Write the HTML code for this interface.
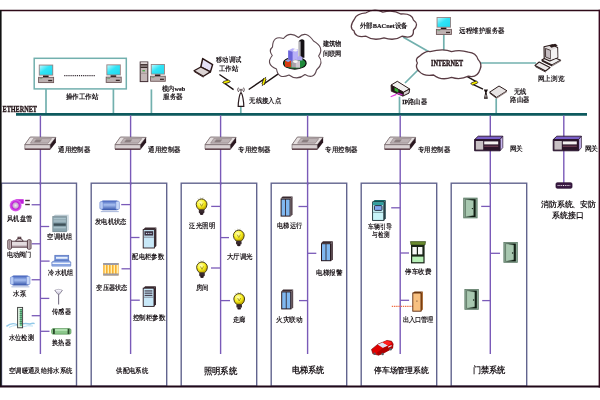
<!DOCTYPE html><html><head><meta charset="utf-8"><style>html,body{margin:0;padding:0;background:#fff;overflow:hidden;width:600px;height:400px;}svg{display:block;will-change:transform;font-family:"Liberation Serif",serif;}</style></head><body>
<svg width="600" height="400" viewBox="0 0 600 400">
<rect width="600" height="400" fill="#fff"/>
<rect x="34.2" y="58.3" width="92.1" height="30.6" fill="none" stroke="#72b0ae" stroke-width="1.5"/>
<line x1="46" y1="89" x2="46" y2="113.5" stroke="#72b0ae" stroke-width="1.7"/>
<line x1="113.4" y1="89" x2="113.4" y2="113.5" stroke="#72b0ae" stroke-width="1.7"/>
<line x1="151.4" y1="89.4" x2="151.4" y2="113.5" stroke="#72b0ae" stroke-width="1.7"/>
<line x1="240.8" y1="106.5" x2="240.8" y2="113.5" stroke="#72b0ae" stroke-width="1.7"/>
<line x1="399.5" y1="96.7" x2="399.5" y2="113.5" stroke="#72b0ae" stroke-width="1.7"/>
<line x1="496.2" y1="98.5" x2="496.2" y2="113.5" stroke="#72b0ae" stroke-width="1.7"/>
<line x1="443.8" y1="34.7" x2="443.8" y2="51" stroke="#72b0ae" stroke-width="1.7"/>
<line x1="403" y1="37" x2="431" y2="53" stroke="#72b0ae" stroke-width="1.7"/>
<line x1="405" y1="83" x2="418" y2="70" stroke="#72b0ae" stroke-width="1.7"/>
<line x1="478" y1="63" x2="536" y2="63" stroke="#72b0ae" stroke-width="1.7"/>
<line x1="16" y1="114.4" x2="587" y2="114.4" stroke="#0e5a5e" stroke-width="2.8"/>
<text x="2.50" y="111.80" font-size="7.90" textLength="34.50" lengthAdjust="spacingAndGlyphs" fill="#241418" font-weight="bold" stroke="#241418" stroke-width="0.35">ETHERNET</text>
<line x1="40.4" y1="115.5" x2="40.4" y2="354" stroke="#7a5ab8" stroke-width="1.4"/>
<line x1="130.6" y1="115.5" x2="130.6" y2="354" stroke="#7a5ab8" stroke-width="1.4"/>
<line x1="220.6" y1="115.5" x2="220.6" y2="354" stroke="#7a5ab8" stroke-width="1.4"/>
<line x1="307.6" y1="115.5" x2="307.6" y2="354" stroke="#7a5ab8" stroke-width="1.4"/>
<line x1="400.2" y1="115.5" x2="400.2" y2="354" stroke="#7a5ab8" stroke-width="1.4"/>
<line x1="490.3" y1="115.5" x2="490.3" y2="354" stroke="#7a5ab8" stroke-width="1.4"/>
<line x1="563.8" y1="115.5" x2="563.8" y2="183" stroke="#7a5ab8" stroke-width="1.4"/>
<rect x="1.5" y="183.2" width="75.0" height="203" fill="none" stroke="#62648e" stroke-width="1.4"/>
<rect x="91.2" y="183.2" width="75.5" height="203" fill="none" stroke="#62648e" stroke-width="1.4"/>
<rect x="181.2" y="183.2" width="75.5" height="203" fill="none" stroke="#62648e" stroke-width="1.4"/>
<rect x="271.2" y="183.2" width="75.5" height="203" fill="none" stroke="#62648e" stroke-width="1.4"/>
<rect x="361.2" y="183.2" width="75.5" height="203" fill="none" stroke="#62648e" stroke-width="1.4"/>
<rect x="451.2" y="183.2" width="75.5" height="203" fill="none" stroke="#62648e" stroke-width="1.4"/>
<line x1="40.4" y1="182" x2="40.4" y2="185" stroke="#7a5ab8" stroke-width="1.4"/>
<line x1="130.6" y1="182" x2="130.6" y2="185" stroke="#7a5ab8" stroke-width="1.4"/>
<line x1="220.6" y1="182" x2="220.6" y2="185" stroke="#7a5ab8" stroke-width="1.4"/>
<line x1="307.6" y1="182" x2="307.6" y2="185" stroke="#7a5ab8" stroke-width="1.4"/>
<line x1="400.2" y1="182" x2="400.2" y2="185" stroke="#7a5ab8" stroke-width="1.4"/>
<line x1="490.3" y1="182" x2="490.3" y2="185" stroke="#7a5ab8" stroke-width="1.4"/>
<defs><linearGradient id="scr" x1="0" y1="0" x2="1" y2="1"><stop offset="0" stop-color="#b8f8ff"/><stop offset="0.45" stop-color="#30e4f6"/><stop offset="1" stop-color="#20d8ee"/></linearGradient><linearGradient id="cyl" x1="0" y1="0" x2="0" y2="1"><stop offset="0" stop-color="#3a5ab8"/><stop offset="0.45" stop-color="#a8c0f0"/><stop offset="1" stop-color="#3050a8"/></linearGradient><radialGradient id="bulb" cx="0.4" cy="0.35" r="0.6"><stop offset="0" stop-color="#ffffc0"/><stop offset="0.6" stop-color="#f8f020"/><stop offset="1" stop-color="#c8b000"/></radialGradient><radialGradient id="fan" cx="0.5" cy="0.5" r="0.5"><stop offset="0" stop-color="#f0e8f0"/><stop offset="0.45" stop-color="#c8a8d0"/><stop offset="0.6" stop-color="#c020d8"/><stop offset="1" stop-color="#e070f0"/></radialGradient></defs>
<g transform="translate(38.2,64.6) scale(1.0,1.0)"><rect x="0.6" y="0" width="14.4" height="11" fill="#9a8080"/><rect x="1.5" y="0.9" width="12.6" height="9.2" fill="url(#scr)"/><rect x="4.8" y="11" width="5.6" height="1.7" fill="#1a1010"/><rect x="0.4" y="12.7" width="15" height="5.3" fill="#bcb0b0" stroke="#6e5658" stroke-width="0.9"/><rect x="1.4" y="13.6" width="2.8" height="0.9" fill="#7aa07a"/><rect x="10" y="15.3" width="4" height="1.3" fill="#3a2a2a"/></g>
<g transform="translate(105.8,64.4) scale(1.0,1.0)"><rect x="0.6" y="0" width="14.4" height="11" fill="#9a8080"/><rect x="1.5" y="0.9" width="12.6" height="9.2" fill="url(#scr)"/><rect x="4.8" y="11" width="5.6" height="1.7" fill="#1a1010"/><rect x="0.4" y="12.7" width="15" height="5.3" fill="#bcb0b0" stroke="#6e5658" stroke-width="0.9"/><rect x="1.4" y="13.6" width="2.8" height="0.9" fill="#7aa07a"/><rect x="10" y="15.3" width="4" height="1.3" fill="#3a2a2a"/></g>
<g transform="translate(150.2,64.0) scale(0.98,0.96)"><rect x="0.6" y="0" width="14.4" height="11" fill="#9a8080"/><rect x="1.5" y="0.9" width="12.6" height="9.2" fill="url(#scr)"/><rect x="4.8" y="11" width="5.6" height="1.7" fill="#1a1010"/><rect x="0.4" y="12.7" width="15" height="5.3" fill="#bcb0b0" stroke="#6e5658" stroke-width="0.9"/><rect x="1.4" y="13.6" width="2.8" height="0.9" fill="#7aa07a"/><rect x="10" y="15.3" width="4" height="1.3" fill="#3a2a2a"/></g>
<g transform="translate(436.0,17.0) scale(1.0,0.97)"><rect x="0.6" y="0" width="14.4" height="11" fill="#9a8080"/><rect x="1.5" y="0.9" width="12.6" height="9.2" fill="url(#scr)"/><rect x="4.8" y="11" width="5.6" height="1.7" fill="#1a1010"/><rect x="0.4" y="12.7" width="15" height="5.3" fill="#bcb0b0" stroke="#6e5658" stroke-width="0.9"/><rect x="1.4" y="13.6" width="2.8" height="0.9" fill="#7aa07a"/><rect x="10" y="15.3" width="4" height="1.3" fill="#3a2a2a"/></g>
<line x1="64.2" y1="75.6" x2="95" y2="75.6" stroke="#3a3038" stroke-width="1.1" stroke-dasharray="1.2,0.9"/>
<g><rect x="140.2" y="62" width="7.6" height="19.6" fill="#c4b8b8" stroke="#3e2a30" stroke-width="1"/><rect x="140.6" y="62.4" width="6.8" height="1.2" fill="#f0e8e8"/><rect x="140.6" y="64.2" width="6.8" height="1.3" fill="#2a1a1a"/><rect x="140.6" y="66.6" width="6.8" height="1.3" fill="#2a1a1a"/><rect x="142.4" y="70" width="2.6" height="1.4" fill="#50a850"/><line x1="140.6" y1="73.4" x2="147.4" y2="73.4" stroke="#8a7a7a" stroke-width="0.5"/></g>
<polygon points="202.7,58.6 212.6,64.6 210.4,71.9 200.8,67" fill="#e4e0f6" stroke="#2a1616" stroke-width="1.5" stroke-linejoin="round"/><polygon points="200.8,67 210.4,71.9 203.4,76.3 194,70.8" fill="#dcd4d4" stroke="#2a1616" stroke-width="1.3" stroke-linejoin="round"/><line x1="194.2" y1="71.6" x2="203.4" y2="77.2" stroke="#3a2222" stroke-width="1"/>
<polyline points="219.4,74.5 229.4,81.2 223.6,82.6 233.6,89.6" fill="none" stroke="#1e1414" stroke-width="1.4" stroke-linejoin="miter"/>
<line x1="229.4" y1="81.2" x2="223.6" y2="82.6" stroke="#1e1414" stroke-width="3.2" stroke-linecap="butt"/>
<line x1="229.4" y1="81.2" x2="223.6" y2="82.6" stroke="#f4ee00" stroke-width="1.7" stroke-linecap="butt"/>
<polyline points="248.7,89.5 265,78.4 263,84.6 279,73.4" fill="none" stroke="#1e1414" stroke-width="1.4" stroke-linejoin="miter"/>
<line x1="265" y1="78.4" x2="263" y2="84.6" stroke="#1e1414" stroke-width="3.2" stroke-linecap="butt"/>
<line x1="265" y1="78.4" x2="263" y2="84.6" stroke="#f4ee00" stroke-width="1.7" stroke-linecap="butt"/>
<polyline points="466.5,76.2 477,82.1 471.8,83.9 483,89.1" fill="none" stroke="#1e1414" stroke-width="1.4" stroke-linejoin="miter"/>
<line x1="477" y1="82.1" x2="471.8" y2="83.9" stroke="#1e1414" stroke-width="3.2" stroke-linecap="butt"/>
<line x1="477" y1="82.1" x2="471.8" y2="83.9" stroke="#f4ee00" stroke-width="1.7" stroke-linecap="butt"/>
<path d="M238.4,87.6 Q236.8,89.8 238.6,92 M243.6,87.6 Q245.2,89.8 243.4,92" fill="none" stroke="#4a3a3e" stroke-width="0.9"/><path d="M239.8,88.6 Q239,89.8 239.9,91 M242.2,88.6 Q243,89.8 242.1,91" fill="none" stroke="#6a5a5e" stroke-width="0.7"/><circle cx="241" cy="89.8" r="0.9" fill="#3a2a2e"/><line x1="241" y1="90.6" x2="241" y2="93" stroke="#3a2a2e" stroke-width="0.8"/><path d="M241,92.8 C242.6,93.6 243.8,102.6 243.8,106.4 L238.2,106.4 C238.2,102.6 239.4,93.6 241,92.8 Z" fill="#fff" stroke="#2a1a1e" stroke-width="1.2"/>
<path d="M272.5,47 Q272.80,35.08 283.5,38.5 Q289.70,30.72 298.5,37.5 Q306.00,29.76 313.5,41 Q324.76,47.20 318.6,56 Q324.44,63.00 316.5,70 Q314.00,79.92 305,74.5 Q297.00,81.12 289,75 Q278.20,79.80 276.5,69 Q265.04,64.20 272.3,55.5 Q268.24,50.60 272.5,47 Z" fill="#fff" stroke="#5e4850" stroke-width="1.1" stroke-linejoin="round"/>
<path d="M354.6,18.8 Q356.70,13.40 366,12.8 Q374.40,7.94 382.8,12.2 Q393.24,9.50 400.8,14 Q412.14,13.16 413.4,20 Q419.64,24.38 413.4,30.2 Q414.18,39.44 402,36.2 Q394.44,41.32 384,37.8 Q373.56,41.32 366,36.2 Q354.72,38.06 354,30.8 Q348.30,27.68 354.6,18.8 Z" fill="#fff" stroke="#5a3c44" stroke-width="1.3" stroke-linejoin="round"/>
<path d="M419.2,56.4 Q426.04,50.64 430,51.6 Q443.68,48.24 451.6,51.6 Q460.00,49.26 468.4,52.2 Q476.08,52.92 478,59.4 Q482.46,64.20 480.2,69 Q477.42,78.36 468.4,76.2 Q460.00,80.16 451.6,77.4 Q441.16,81.00 433.6,75 Q423.52,76.56 419.2,71.4 Q414.70,67.20 417.4,63 Q414.70,58.98 419.2,56.4 Z" fill="#fff" stroke="#5a3c44" stroke-width="1.3" stroke-linejoin="round"/>
<g><ellipse cx="294.8" cy="63.2" rx="11.3" ry="5.9" fill="#1f8a3a" stroke="#0a0a0a" stroke-width="1.1"/><path d="M298.8,57.8 L298.8,41 Q301.6,37.8 304.4,40.6 L304.4,57.8 Z" fill="#141014"/><rect x="299.2" y="41.4" width="1.3" height="16" fill="#dcdce4"/><polygon points="288.2,50.4 292.6,48.2 298,49.4 298,62 288.2,63" fill="#b8b0f8"/><polygon points="288.2,50.4 292.6,51.8 292.6,63 288.2,63" fill="#6a64d8"/><ellipse cx="295.4" cy="50.2" rx="2" ry="1.3" fill="#f4f4f4"/><polygon points="297,57.2 299.8,55.8 302.4,57 302.4,60.6 297,60.6" fill="#b0a8f0"/><polygon points="285,60.8 287.6,59.2 291,60.4 291,67.2 285,66.8" fill="#d83a10"/><polygon points="285,60.8 287.6,59.2 291,60.4 288.4,62" fill="#88a8f0"/><polygon points="291.4,61 295.6,59.4 300,61 300,67.6 291.4,67.6" fill="#a8a0a8"/><polygon points="295.8,61.6 300,61 300,67.6 295.8,67.6" fill="#d0c8d0"/><ellipse cx="295.4" cy="61.6" rx="2.4" ry="1.4" fill="#f8f8f8"/></g>
<g stroke-linejoin="round"><polygon points="391,85.1 397.3,81.3 409.7,89 403.4,92.3" fill="#f2f0f0" stroke="#2a1a1a" stroke-width="1"/><polygon points="403.4,92.3 409.7,89 409,93.1 402.8,96.1" fill="#dcd6d6" stroke="#2a1a1a" stroke-width="1"/><polygon points="391,85.1 403.4,92.3 402.8,96.1 391.3,91.2" fill="#241418" stroke="#2a1a1a" stroke-width="0.8"/><polygon points="394.5,87.6 398.4,89.8 398.2,92.6 394.6,90.8" fill="#30b030"/><polygon points="397.6,92.4 402.6,94.2 402.4,95.4 397.4,94" fill="#c030c0"/></g>
<line x1="390.7" y1="96.8" x2="396.4" y2="94.4" stroke="#e040e0" stroke-width="1.2"/>
<g stroke-linejoin="round"><polygon points="489.6,92.2 499,86 507,90.8 496.6,97.4" fill="#e8e4e4" stroke="#2a1a1a" stroke-width="1"/><polygon points="489.6,92.2 496.6,97.4 496.6,98.8 489.6,93.6" fill="#3a2a2a"/><polygon points="496.6,97.4 507,90.8 507,92 496.6,98.8" fill="#8a7a7a"/></g>
<path d="M483.8,89.6 L488,89.6 L486.6,92.6 L487.8,98.8 L484,98.8 L485.2,92.6 Z" fill="#1a1010"/><rect x="485.2" y="94.6" width="1.4" height="3" fill="#a8a0a0"/>
<g stroke-linejoin="round"><polygon points="541.8,60 549.6,55.6 560.6,60.2 552,65" fill="#f0f0f0" stroke="#2a1a1a" stroke-width="1.1"/><polygon points="541.8,60 552,65 552,66.4 541.8,61.6" fill="#2a1a1a"/><polygon points="552,65 560.6,60.2 560.6,61.6 552,66.4" fill="#8a8080"/><polygon points="544,46.8 552.4,44.8 557.6,47.4 557.8,57.6 549.8,61 544.2,58.6" fill="#e0dcdc" stroke="#2a1a1a" stroke-width="1.1"/><polygon points="545.4,48.4 550.6,50.4 550.6,59 545.6,57" fill="#c4bcc0" stroke="#3a2a2a" stroke-width="0.9"/><polygon points="550.8,50.6 557.2,47.8 557.4,57.4 550.8,59.8" fill="#f4f2f2"/><polygon points="549,45.4 555.2,43.8 557.8,45.6 551.4,47.8" fill="#2a1a1a"/><polygon points="535,65.4 539.2,62 550,67.6 545.6,71" fill="#ece8e8" stroke="#2a1a1a" stroke-width="1.1"/><line x1="535.4" y1="66.6" x2="545.6" y2="72" stroke="#2a1a1a" stroke-width="0.9"/></g>
<g transform="translate(0.00,0)" stroke-linejoin="round"><polygon points="30.2,137 55.9,137.4 50.2,144.7 24.8,144.7" fill="#e6e0e0" stroke="#6a5a5e" stroke-width="0.8"/><polygon points="33.6,138.4 51.6,138.6 48,143.2 30.4,143.2" fill="#bcb2b4" stroke="#7a6a6e" stroke-width="0.5"/><polygon points="36,139.4 42,139.4 40,142.2 34,142.2" fill="#8a7e80"/><rect x="24.8" y="144.7" width="25.4" height="4.4" fill="#d8d0d2" stroke="#6a5a5e" stroke-width="0.6"/><line x1="24.8" y1="149.2" x2="50.2" y2="149.2" stroke="#4a2a34" stroke-width="1.2"/><polygon points="50.2,144.7 55.9,137.4 55.9,142.4 50.4,149.6" fill="#2a1820"/></g>
<g transform="translate(90.20,0)" stroke-linejoin="round"><polygon points="30.2,137 55.9,137.4 50.2,144.7 24.8,144.7" fill="#e6e0e0" stroke="#6a5a5e" stroke-width="0.8"/><polygon points="33.6,138.4 51.6,138.6 48,143.2 30.4,143.2" fill="#bcb2b4" stroke="#7a6a6e" stroke-width="0.5"/><polygon points="36,139.4 42,139.4 40,142.2 34,142.2" fill="#8a7e80"/><rect x="24.8" y="144.7" width="25.4" height="4.4" fill="#d8d0d2" stroke="#6a5a5e" stroke-width="0.6"/><line x1="24.8" y1="149.2" x2="50.2" y2="149.2" stroke="#4a2a34" stroke-width="1.2"/><polygon points="50.2,144.7 55.9,137.4 55.9,142.4 50.4,149.6" fill="#2a1820"/></g>
<g transform="translate(180.20,0)" stroke-linejoin="round"><polygon points="30.2,137 55.9,137.4 50.2,144.7 24.8,144.7" fill="#e6e0e0" stroke="#6a5a5e" stroke-width="0.8"/><polygon points="33.6,138.4 51.6,138.6 48,143.2 30.4,143.2" fill="#bcb2b4" stroke="#7a6a6e" stroke-width="0.5"/><polygon points="36,139.4 42,139.4 40,142.2 34,142.2" fill="#8a7e80"/><rect x="24.8" y="144.7" width="25.4" height="4.4" fill="#d8d0d2" stroke="#6a5a5e" stroke-width="0.6"/><line x1="24.8" y1="149.2" x2="50.2" y2="149.2" stroke="#4a2a34" stroke-width="1.2"/><polygon points="50.2,144.7 55.9,137.4 55.9,142.4 50.4,149.6" fill="#2a1820"/></g>
<g transform="translate(267.20,0)" stroke-linejoin="round"><polygon points="30.2,137 55.9,137.4 50.2,144.7 24.8,144.7" fill="#e6e0e0" stroke="#6a5a5e" stroke-width="0.8"/><polygon points="33.6,138.4 51.6,138.6 48,143.2 30.4,143.2" fill="#bcb2b4" stroke="#7a6a6e" stroke-width="0.5"/><polygon points="36,139.4 42,139.4 40,142.2 34,142.2" fill="#8a7e80"/><rect x="24.8" y="144.7" width="25.4" height="4.4" fill="#d8d0d2" stroke="#6a5a5e" stroke-width="0.6"/><line x1="24.8" y1="149.2" x2="50.2" y2="149.2" stroke="#4a2a34" stroke-width="1.2"/><polygon points="50.2,144.7 55.9,137.4 55.9,142.4 50.4,149.6" fill="#2a1820"/></g>
<g transform="translate(359.80,0)" stroke-linejoin="round"><polygon points="30.2,137 55.9,137.4 50.2,144.7 24.8,144.7" fill="#e6e0e0" stroke="#6a5a5e" stroke-width="0.8"/><polygon points="33.6,138.4 51.6,138.6 48,143.2 30.4,143.2" fill="#bcb2b4" stroke="#7a6a6e" stroke-width="0.5"/><polygon points="36,139.4 42,139.4 40,142.2 34,142.2" fill="#8a7e80"/><rect x="24.8" y="144.7" width="25.4" height="4.4" fill="#d8d0d2" stroke="#6a5a5e" stroke-width="0.6"/><line x1="24.8" y1="149.2" x2="50.2" y2="149.2" stroke="#4a2a34" stroke-width="1.2"/><polygon points="50.2,144.7 55.9,137.4 55.9,142.4 50.4,149.6" fill="#2a1820"/></g>
<g transform="translate(0.00,0)" stroke-linejoin="round"><polygon points="474.6,139.6 478.2,136.2 502.8,136.2 500,139.6" fill="#7a60c8" stroke="#2a1430" stroke-width="0.9"/><polygon points="500,139.6 502.8,136.2 502.8,147.6 500,150.8" fill="#c8b8f0" stroke="#2a1430" stroke-width="0.7"/><rect x="474.6" y="139.6" width="25.4" height="11.2" fill="#2a1428" stroke="#2a1430" stroke-width="0.9"/><rect x="475.8" y="141" width="7.4" height="8.6" fill="#c8c0c4"/><rect x="484.2" y="141.4" width="14" height="3" fill="#f4f0f0"/><rect x="484.2" y="145.6" width="14" height="1.4" fill="#6a3a50"/></g>
<g transform="translate(78.60,0)" stroke-linejoin="round"><polygon points="474.6,139.6 478.2,136.2 502.8,136.2 500,139.6" fill="#7a60c8" stroke="#2a1430" stroke-width="0.9"/><polygon points="500,139.6 502.8,136.2 502.8,147.6 500,150.8" fill="#c8b8f0" stroke="#2a1430" stroke-width="0.7"/><rect x="474.6" y="139.6" width="25.4" height="11.2" fill="#2a1428" stroke="#2a1430" stroke-width="0.9"/><rect x="475.8" y="141" width="7.4" height="8.6" fill="#c8c0c4"/><rect x="484.2" y="141.4" width="14" height="3" fill="#f4f0f0"/><rect x="484.2" y="145.6" width="14" height="1.4" fill="#6a3a50"/></g>
<rect x="556" y="182.8" width="16" height="5.4" rx="1.2" fill="#3a1a44" stroke="#2a1030" stroke-width="0.8"/><line x1="557.6" y1="185.5" x2="570.4" y2="185.5" stroke="#f0e8f0" stroke-width="1.1" stroke-dasharray="1,0.8"/>
<path d="M15.5,199.6 L23.4,199.6 L23.4,203.4 L20.6,203.4" fill="#c020d8" stroke="#c020d8" stroke-width="0.6"/><circle cx="15.6" cy="205.5" r="6" fill="url(#fan)"/><rect x="25.2" y="199.8" width="4.6" height="1.4" fill="#4a3438"/><rect x="25.2" y="203.8" width="4.6" height="1.4" fill="#4a3438"/>
<g><polygon points="52.8,216.6 55,214.8 68.9,214.8 66.6,216.6" fill="#b8c8d0"/><polygon points="66.6,216.6 68.9,214.8 68.9,230 66.6,231.8" fill="#d0dde4"/><rect x="52.8" y="216.6" width="13.8" height="15.2" fill="#8aa4ae" stroke="#5a7078" stroke-width="0.5"/><rect x="53.6" y="218.4" width="12.2" height="0.8" fill="#c0d4dc"/><rect x="53.6" y="220.6" width="12.2" height="0.8" fill="#c0d4dc"/><rect x="53.6" y="223.4" width="12.2" height="2.4" fill="#3e5058"/><rect x="53.6" y="227.4" width="12.2" height="0.8" fill="#c0d4dc"/></g>
<g stroke="#4a3038" stroke-width="0.9" fill="#d4c8cc"><rect x="11" y="241.2" width="17" height="6" fill="#e4dcdf"/><path d="M15.6,241.2 Q16.4,238.6 19.4,238.4 Q22.4,238.6 23.2,241.2 Z" fill="#e8e0e2"/><rect x="18" y="237.2" width="2.8" height="1.4"/><rect x="7.8" y="239.8" width="3.6" height="9.4" rx="1"/><rect x="27.4" y="239.8" width="3.6" height="9.4" rx="1"/></g><line x1="9.6" y1="240.6" x2="9.6" y2="248.4" stroke="#6a5058" stroke-width="0.6"/><line x1="29.2" y1="240.6" x2="29.2" y2="248.4" stroke="#6a5058" stroke-width="0.6"/><line x1="11.6" y1="246.2" x2="27.2" y2="246.2" stroke="#8a7078" stroke-width="0.8"/>
<g><rect x="54.8" y="255.2" width="14" height="5.8" fill="#7090d8" stroke="#4a64b0" stroke-width="0.5"/><rect x="56" y="256.8" width="11.6" height="2" fill="#e8f0fc"/><polygon points="51.8,262 54.4,260.8 69.2,260.8 70.8,262 70.8,265.8 51.8,265.8" fill="#86a4e4" stroke="#4a64b0" stroke-width="0.5"/><rect x="52.4" y="262.6" width="17.8" height="1.4" fill="#f0f4fc"/><rect x="51.8" y="265.8" width="19" height="1.1" fill="#b0c4ec"/></g>
<g transform="translate(10.4,275.2)"><rect x="1.6" y="0.4" width="16.8" height="9.8" rx="1.5" fill="url(#cyl)"/><rect x="0" y="1.6" width="3.4" height="7.6" rx="1.2" fill="#b8ccf4" stroke="#5a78c8" stroke-width="0.5"/><rect x="16" y="1.2" width="3.6" height="8.2" rx="1.2" fill="#c8d8f8" stroke="#5a78c8" stroke-width="0.5"/><rect x="1" y="11.2" width="18" height="0.9" fill="#a0b0d8"/></g>
<g transform="translate(99.8,200)"><rect x="1.6" y="0.4" width="16.8" height="9.8" rx="1.5" fill="url(#cyl)"/><rect x="0" y="1.6" width="3.4" height="7.6" rx="1.2" fill="#b8ccf4" stroke="#5a78c8" stroke-width="0.5"/><rect x="16" y="1.2" width="3.6" height="8.2" rx="1.2" fill="#c8d8f8" stroke="#5a78c8" stroke-width="0.5"/><rect x="1" y="11.2" width="18" height="0.9" fill="#a0b0d8"/></g>
<path d="M54.8,290.4 Q58.6,288.4 62.4,290.4 L59.4,294.2 L57.8,294.2 Z" fill="#dcd8e8" stroke="#6a6478" stroke-width="0.7"/><ellipse cx="58.6" cy="290.6" rx="3" ry="1" fill="#f4f2fa"/><line x1="58.6" y1="294" x2="58.6" y2="304.6" stroke="#7a7488" stroke-width="1.1"/>
<path d="M6.4,326.4 Q12,321.6 18,325 Q24,322.6 30,324 Q33,322.8 34.6,323.6" fill="none" stroke="#90c8e8" stroke-width="1.4"/><path d="M9,327.4 Q16,323.8 22,327 Q28,325 33,326" fill="none" stroke="#b8e0f4" stroke-width="1"/><rect x="17.6" y="307.4" width="5" height="20.4" fill="#e0f4e4" stroke="#3a3a3a" stroke-width="0.9"/><rect x="19.8" y="309" width="2.2" height="17" fill="#6ac890"/>
<line x1="19.6" y1="309.6" x2="22" y2="309.6" stroke="#2a3a2a" stroke-width="0.5"/>
<line x1="19.6" y1="311.6" x2="22" y2="311.6" stroke="#2a3a2a" stroke-width="0.5"/>
<line x1="19.6" y1="313.6" x2="22" y2="313.6" stroke="#2a3a2a" stroke-width="0.5"/>
<line x1="19.6" y1="315.6" x2="22" y2="315.6" stroke="#2a3a2a" stroke-width="0.5"/>
<line x1="19.6" y1="317.6" x2="22" y2="317.6" stroke="#2a3a2a" stroke-width="0.5"/>
<line x1="19.6" y1="319.6" x2="22" y2="319.6" stroke="#2a3a2a" stroke-width="0.5"/>
<line x1="19.6" y1="321.6" x2="22" y2="321.6" stroke="#2a3a2a" stroke-width="0.5"/>
<line x1="19.6" y1="323.6" x2="22" y2="323.6" stroke="#2a3a2a" stroke-width="0.5"/>
<rect x="51.6" y="328.6" width="19.4" height="5.6" rx="1.6" fill="#8cc88c" stroke="#4a8a4a" stroke-width="0.6"/><rect x="53" y="328.8" width="1.8" height="5.2" fill="#2a4a2a"/><rect x="67.6" y="328.8" width="1.8" height="5.2" fill="#2a4a2a"/><rect x="55" y="329.4" width="12.4" height="1.2" fill="#c8f0c8"/>
<g transform="translate(143.2,227.6)"><polygon points="0,2 2,0 13.2,0 11.2,2" fill="#3a2a30"/><polygon points="11.2,2 13.2,0 13.2,18.4 11.2,20.4" fill="#3a2a30"/><rect x="0" y="2" width="11.2" height="18.4" fill="#c8e8f8" stroke="#2a1a20" stroke-width="0.9"/><rect x="1.2" y="3.6" width="8.799999999999999" height="4.4" fill="#3a3040"/><circle cx="3.4" cy="5.8" r="0.7" fill="#d0d8f0"/><circle cx="5.6" cy="5.8" r="0.7" fill="#d0d8f0"/><circle cx="7.8" cy="5.8" r="0.7" fill="#d0d8f0"/><line x1="0.6" y1="9.6" x2="10.6" y2="9.6" stroke="#5a5060" stroke-width="0.6"/></g>
<g transform="translate(143.2,286.2)"><polygon points="0,2 2,0 12.8,0 10.8,2" fill="#3a2a30"/><polygon points="10.8,2 12.8,0 12.8,18.2 10.8,20.2" fill="#3a2a30"/><rect x="0" y="2" width="10.8" height="18.2" fill="#c8e8f8" stroke="#2a1a20" stroke-width="0.9"/><rect x="1.4" y="4.2" width="7.800000000000001" height="1.1" fill="#3a3040"/><rect x="1.4" y="6.4" width="7.800000000000001" height="1.1" fill="#3a3040"/><rect x="1.4" y="8.6" width="7.800000000000001" height="1.1" fill="#3a3040"/><line x1="0.6" y1="11" x2="10.200000000000001" y2="11" stroke="#5a5060" stroke-width="0.6"/></g>
<rect x="103.2" y="263" width="15.4" height="12.4" fill="#f8b030"/><rect x="103.2" y="263" width="15.4" height="2" fill="#9a9aa8"/><rect x="103.2" y="273.4" width="15.4" height="2.2" fill="#9a9aa8"/>
<rect x="104.6" y="265" width="1.4" height="8.4" fill="#fff0b0"/>
<rect x="107.6" y="265" width="1.4" height="8.4" fill="#fff0b0"/>
<rect x="110.6" y="265" width="1.4" height="8.4" fill="#fff0b0"/>
<rect x="113.6" y="265" width="1.4" height="8.4" fill="#fff0b0"/>
<rect x="116.6" y="265" width="1.4" height="8.4" fill="#fff0b0"/>
<g transform="translate(201.6,205.4)"><path d="M-1.2,-7.8 L-0.6,-6.6 M1.4,-7.8 L0.8,-6.6 M-3.6,-6.8 L-2.8,-5.8" stroke="#6a6a40" stroke-width="0.5"/><path d="M-5.4,-1 A5.4,5.4 0 1 1 5.4,-1 Q5.4,2 2.6,4.4 L-2.6,4.4 Q-5.4,2 -5.4,-1 Z" fill="url(#bulb)" stroke="#3a3010" stroke-width="0.9"/><path d="M-1.6,-2 L0,1 L1.6,-2" fill="none" stroke="#7a6a10" stroke-width="0.6"/><rect x="-2.8" y="4.4" width="5.6" height="3.4" rx="1" fill="#3a2a30"/><ellipse cx="0" cy="8.4" rx="1.8" ry="1.2" fill="#2a1a20"/></g>
<g transform="translate(238.8,236.6)"><path d="M-1.2,-7.8 L-0.6,-6.6 M1.4,-7.8 L0.8,-6.6 M-3.6,-6.8 L-2.8,-5.8" stroke="#6a6a40" stroke-width="0.5"/><path d="M-5.4,-1 A5.4,5.4 0 1 1 5.4,-1 Q5.4,2 2.6,4.4 L-2.6,4.4 Q-5.4,2 -5.4,-1 Z" fill="url(#bulb)" stroke="#3a3010" stroke-width="0.9"/><path d="M-1.6,-2 L0,1 L1.6,-2" fill="none" stroke="#7a6a10" stroke-width="0.6"/><rect x="-2.8" y="4.4" width="5.6" height="3.4" rx="1" fill="#3a2a30"/><ellipse cx="0" cy="8.4" rx="1.8" ry="1.2" fill="#2a1a20"/></g>
<g transform="translate(202.0,268.4)"><path d="M-1.2,-7.8 L-0.6,-6.6 M1.4,-7.8 L0.8,-6.6 M-3.6,-6.8 L-2.8,-5.8" stroke="#6a6a40" stroke-width="0.5"/><path d="M-5.4,-1 A5.4,5.4 0 1 1 5.4,-1 Q5.4,2 2.6,4.4 L-2.6,4.4 Q-5.4,2 -5.4,-1 Z" fill="url(#bulb)" stroke="#3a3010" stroke-width="0.9"/><path d="M-1.6,-2 L0,1 L1.6,-2" fill="none" stroke="#7a6a10" stroke-width="0.6"/><rect x="-2.8" y="4.4" width="5.6" height="3.4" rx="1" fill="#3a2a30"/><ellipse cx="0" cy="8.4" rx="1.8" ry="1.2" fill="#2a1a20"/></g>
<g transform="translate(239.2,300.0)"><path d="M-1.2,-7.8 L-0.6,-6.6 M1.4,-7.8 L0.8,-6.6 M-3.6,-6.8 L-2.8,-5.8" stroke="#6a6a40" stroke-width="0.5"/><path d="M-5.4,-1 A5.4,5.4 0 1 1 5.4,-1 Q5.4,2 2.6,4.4 L-2.6,4.4 Q-5.4,2 -5.4,-1 Z" fill="url(#bulb)" stroke="#3a3010" stroke-width="0.9"/><path d="M-1.6,-2 L0,1 L1.6,-2" fill="none" stroke="#7a6a10" stroke-width="0.6"/><rect x="-2.8" y="4.4" width="5.6" height="3.4" rx="1" fill="#3a2a30"/><ellipse cx="0" cy="8.4" rx="1.8" ry="1.2" fill="#2a1a20"/></g>
<g transform="translate(280.6,196.6)"><polygon points="0,2 2,0 12,0 10,2" fill="#3a2a30"/><polygon points="10,2 12,0 12,18 10,20" fill="#5a4a50"/><rect x="0" y="2" width="10" height="18" fill="#2a1a20"/><rect x="1" y="3" width="3.6" height="16" fill="#80b8f0"/><rect x="5.4" y="3" width="3.6" height="16" fill="#80b8f0"/></g>
<g transform="translate(321.0,241.2)"><polygon points="0,2 2,0 12,0 10,2" fill="#3a2a30"/><polygon points="10,2 12,0 12,18 10,20" fill="#5a4a50"/><rect x="0" y="2" width="10" height="18" fill="#2a1a20"/><rect x="1" y="3" width="3.6" height="16" fill="#80b8f0"/><rect x="5.4" y="3" width="3.6" height="16" fill="#80b8f0"/></g>
<g transform="translate(281.2,289.4)"><polygon points="0,2 2,0 12,0 10,2" fill="#3a2a30"/><polygon points="10,2 12,0 12,18 10,20" fill="#5a4a50"/><rect x="0" y="2" width="10" height="18" fill="#2a1a20"/><rect x="1" y="3" width="3.6" height="16" fill="#80b8f0"/><rect x="5.4" y="3" width="3.6" height="16" fill="#80b8f0"/></g>
<g><polygon points="372.6,202 374.6,200 385.8,200 383.8,202" fill="#1a6a6a"/><polygon points="383.8,202 385.8,200 385.8,218.4 383.8,220.4" fill="#2a4a50"/><rect x="372.6" y="202" width="11.2" height="18.4" fill="#c8f4f8" stroke="#1a2a30" stroke-width="0.9"/><rect x="372.8" y="202.2" width="10.8" height="3" fill="#30a0a0"/><rect x="374.4" y="205.6" width="7.6" height="4.8" rx="0.8" fill="#80a8f0" stroke="#1a2030" stroke-width="0.9"/><line x1="372.6" y1="212.4" x2="383.8" y2="212.4" stroke="#3a4a50" stroke-width="0.5"/></g>
<g><polygon points="410.4,241.6 425.6,241.6 425,245 411,245" fill="#6a8a30" stroke="#2a3a10" stroke-width="0.6"/><rect x="411" y="245" width="13.6" height="18.4" fill="#1a2418"/><rect x="412.4" y="247" width="4.4" height="7.4" fill="#f8f8f8"/><rect x="418" y="247" width="4.4" height="7.4" fill="#f8f8f8"/><rect x="412.2" y="256.6" width="11.2" height="5.6" fill="#b8f0b8"/></g>
<line x1="391.8" y1="306.4" x2="412.8" y2="306.4" stroke="#f07048" stroke-width="1.3" stroke-dasharray="1.4,0.8"/><polygon points="412.8,293 414.6,291.4 422.8,291.4 421,293" fill="#7a4010"/><polygon points="421,293 422.8,291.4 422.8,309.6 421,311.2" fill="#9a5010"/><rect x="412.8" y="293" width="8.2" height="18.2" fill="#f8c080" stroke="#5a2a10" stroke-width="0.9"/><rect x="416.2" y="300.6" width="1.4" height="1" fill="#8a6040"/>
<g stroke-linejoin="round"><polygon points="371.5,349.4 378.2,344 382.8,342.2 387,340.4 391.6,341.2 393.2,344 392.6,348.2 384.2,352.8 378.6,355.2 372.8,353.8" fill="#e00000" stroke="#6a0000" stroke-width="0.6"/><polygon points="377.6,344.6 382.6,342.4 388,345.6 383,348" fill="#dde4f4"/><polygon points="382.6,342.4 387,340.6 391.8,342.8 388,345.6" fill="#ff2020"/><polygon points="376.8,352.8 383,348 392.8,344.2 392.6,348.2 384.2,352.8 378.6,355.2" fill="#b00000"/><polygon points="388.2,346.6 391.6,345 391.6,346.2 388.2,347.8" fill="#e8e8f0"/><circle cx="374.6" cy="353.8" r="1.2" fill="#5a5a60"/><circle cx="382.6" cy="354" r="1.3" fill="#5a5a60"/><circle cx="390.6" cy="349.2" r="1.2" fill="#5a5a60"/></g>
<g transform="translate(463.2,197.6)"><rect x="0" y="0" width="14.4" height="20.8" fill="#8aa894"/><rect x="0.6" y="0.6" width="13.2" height="19.6" fill="none" stroke="#5a7060" stroke-width="0.5"/><rect x="2.2" y="1.6" width="10.2" height="17.8" fill="#0e1a10"/><polygon points="2.2,1.6 10.4,3 10.4,17.8 2.2,19.4" fill="#a8c8b0" stroke="#506a58" stroke-width="0.4"/><circle cx="9.2" cy="11" r="0.7" fill="#101a10"/></g>
<g transform="translate(503.4,242.0)"><rect x="0" y="0" width="14.4" height="20.8" fill="#8aa894"/><rect x="0.6" y="0.6" width="13.2" height="19.6" fill="none" stroke="#5a7060" stroke-width="0.5"/><rect x="2.2" y="1.6" width="10.2" height="17.8" fill="#0e1a10"/><polygon points="2.2,1.6 10.4,3 10.4,17.8 2.2,19.4" fill="#a8c8b0" stroke="#506a58" stroke-width="0.4"/><circle cx="9.2" cy="11" r="0.7" fill="#101a10"/></g>
<g transform="translate(464.4,289.0)"><rect x="0" y="0" width="14.4" height="20.8" fill="#8aa894"/><rect x="0.6" y="0.6" width="13.2" height="19.6" fill="none" stroke="#5a7060" stroke-width="0.5"/><rect x="2.2" y="1.6" width="10.2" height="17.8" fill="#0e1a10"/><polygon points="2.2,1.6 10.4,3 10.4,17.8 2.2,19.4" fill="#a8c8b0" stroke="#506a58" stroke-width="0.4"/><circle cx="9.2" cy="11" r="0.7" fill="#101a10"/></g>
<text x="65.79" y="99.46" font-size="7.04" textLength="32.63" lengthAdjust="spacingAndGlyphs" fill="#1e181c" font-weight="bold">操作工作站</text>
<text x="163.09" y="98.86" font-size="7.04" textLength="19.83" lengthAdjust="spacingAndGlyphs" fill="#1e181c" font-weight="bold">服务器</text>
<text x="216.10" y="62.09" font-size="6.82" textLength="25.31" lengthAdjust="spacingAndGlyphs" fill="#1e181c" font-weight="bold">移动调试</text>
<text x="219.00" y="71.49" font-size="6.82" textLength="19.41" lengthAdjust="spacingAndGlyphs" fill="#1e181c" font-weight="bold">工作站</text>
<text x="249.29" y="102.93" font-size="6.93" textLength="31.87" lengthAdjust="spacingAndGlyphs" fill="#1e181c" font-weight="bold">无线接入点</text>
<text x="322.80" y="46.39" font-size="6.82" textLength="19.01" lengthAdjust="spacingAndGlyphs" fill="#1e181c" font-weight="bold">建筑物</text>
<text x="322.80" y="55.69" font-size="6.82" textLength="19.01" lengthAdjust="spacingAndGlyphs" fill="#1e181c" font-weight="bold">间联网</text>
<text x="459.49" y="32.81" font-size="7.04" textLength="45.13" lengthAdjust="spacingAndGlyphs" fill="#1e181c" font-weight="bold">远程维护服务器</text>
<text x="537.79" y="80.86" font-size="7.04" textLength="26.43" lengthAdjust="spacingAndGlyphs" fill="#1e181c" font-weight="bold">网上浏览</text>
<text x="513.80" y="94.14" font-size="6.82" textLength="12.61" lengthAdjust="spacingAndGlyphs" fill="#1e181c" font-weight="bold">无线</text>
<text x="510.30" y="102.39" font-size="6.82" textLength="19.11" lengthAdjust="spacingAndGlyphs" fill="#1e181c" font-weight="bold">路由器</text>
<text x="509.79" y="151.06" font-size="7.04" textLength="13.13" lengthAdjust="spacingAndGlyphs" fill="#1e181c" font-weight="bold">网关</text>
<text x="584.59" y="151.06" font-size="7.04" textLength="13.53" lengthAdjust="spacingAndGlyphs" fill="#1e181c" font-weight="bold">网关</text>
<text x="7.05" y="220.60" font-size="6.71" textLength="24.95" lengthAdjust="spacingAndGlyphs" fill="#1e181c" font-weight="bold">风机盘管</text>
<text x="47.30" y="238.90" font-size="6.71" textLength="25.10" lengthAdjust="spacingAndGlyphs" fill="#1e181c" font-weight="bold">空调机组</text>
<text x="6.50" y="257.25" font-size="6.71" textLength="24.90" lengthAdjust="spacingAndGlyphs" fill="#1e181c" font-weight="bold">电动阀门</text>
<text x="48.40" y="275.22" font-size="6.71" textLength="25.00" lengthAdjust="spacingAndGlyphs" fill="#1e181c" font-weight="bold">冷水机组</text>
<text x="13.40" y="296.01" font-size="6.82" textLength="13.01" lengthAdjust="spacingAndGlyphs" fill="#1e181c" font-weight="bold">水泵</text>
<text x="52.20" y="313.65" font-size="6.71" textLength="18.60" lengthAdjust="spacingAndGlyphs" fill="#1e181c" font-weight="bold">传感器</text>
<text x="9.00" y="340.25" font-size="6.71" textLength="24.70" lengthAdjust="spacingAndGlyphs" fill="#1e181c" font-weight="bold">水位检测</text>
<text x="52.30" y="344.85" font-size="6.71" textLength="18.60" lengthAdjust="spacingAndGlyphs" fill="#1e181c" font-weight="bold">换热器</text>
<text x="8.79" y="373.03" font-size="6.93" textLength="63.62" lengthAdjust="spacingAndGlyphs" fill="#1e181c" font-weight="bold">空调暖通及给排水系统</text>
<text x="95.10" y="224.04" font-size="6.82" textLength="31.61" lengthAdjust="spacingAndGlyphs" fill="#1e181c" font-weight="bold">发电机状态</text>
<text x="132.30" y="259.39" font-size="6.82" textLength="31.61" lengthAdjust="spacingAndGlyphs" fill="#1e181c" font-weight="bold">配电柜参数</text>
<text x="96.30" y="289.89" font-size="6.82" textLength="31.11" lengthAdjust="spacingAndGlyphs" fill="#1e181c" font-weight="bold">变压器状态</text>
<text x="132.80" y="320.29" font-size="6.82" textLength="32.61" lengthAdjust="spacingAndGlyphs" fill="#1e181c" font-weight="bold">控制柜参数</text>
<text x="116.20" y="372.69" font-size="6.82" textLength="31.71" lengthAdjust="spacingAndGlyphs" fill="#1e181c" font-weight="bold">供配电系统</text>
<text x="189.40" y="227.59" font-size="6.82" textLength="25.61" lengthAdjust="spacingAndGlyphs" fill="#1e181c" font-weight="bold">泛光照明</text>
<text x="226.79" y="259.23" font-size="6.93" textLength="26.02" lengthAdjust="spacingAndGlyphs" fill="#1e181c" font-weight="bold">大厅调光</text>
<text x="195.80" y="289.50" font-size="6.71" textLength="12.90" lengthAdjust="spacingAndGlyphs" fill="#1e181c" font-weight="bold">房间</text>
<text x="233.10" y="322.40" font-size="6.71" textLength="12.60" lengthAdjust="spacingAndGlyphs" fill="#1e181c" font-weight="bold">走廊</text>
<text x="203.73" y="373.52" font-size="8.91" textLength="33.40" lengthAdjust="spacingAndGlyphs" fill="#1e181c" font-weight="bold">照明系统</text>
<text x="277.30" y="227.60" font-size="6.71" textLength="24.60" lengthAdjust="spacingAndGlyphs" fill="#1e181c" font-weight="bold">电梯运行</text>
<text x="316.09" y="274.98" font-size="6.93" textLength="26.22" lengthAdjust="spacingAndGlyphs" fill="#1e181c" font-weight="bold">电梯报警</text>
<text x="275.99" y="322.21" font-size="7.04" textLength="26.63" lengthAdjust="spacingAndGlyphs" fill="#1e181c" font-weight="bold">火灾联动</text>
<text x="291.54" y="373.44" font-size="8.69" textLength="32.28" lengthAdjust="spacingAndGlyphs" fill="#1e181c" font-weight="bold">电梯系统</text>
<text x="367.60" y="229.01" font-size="6.60" textLength="23.99" lengthAdjust="spacingAndGlyphs" fill="#1e181c" font-weight="bold">车辆引导</text>
<text x="372.40" y="237.11" font-size="6.60" textLength="16.79" lengthAdjust="spacingAndGlyphs" fill="#1e181c" font-weight="bold">与检测</text>
<text x="405.49" y="274.13" font-size="6.93" textLength="25.92" lengthAdjust="spacingAndGlyphs" fill="#1e181c" font-weight="bold">停车收费</text>
<text x="402.60" y="321.84" font-size="6.82" textLength="31.11" lengthAdjust="spacingAndGlyphs" fill="#1e181c" font-weight="bold">出入口管理</text>
<text x="374.15" y="373.36" font-size="8.47" textLength="54.36" lengthAdjust="spacingAndGlyphs" fill="#1e181c" font-weight="bold">停车场管理系统</text>
<text x="472.74" y="372.63" font-size="8.80" textLength="32.79" lengthAdjust="spacingAndGlyphs" fill="#1e181c" font-weight="bold">门禁系统</text>
<text x="540.76" y="207.31" font-size="8.03" textLength="55.42" lengthAdjust="spacingAndGlyphs" fill="#1e181c" font-weight="bold">消防系统、安防</text>
<text x="552.46" y="218.16" font-size="8.03" textLength="31.72" lengthAdjust="spacingAndGlyphs" fill="#1e181c" font-weight="bold">系统接口</text>
<text x="58.19" y="151.93" font-size="6.93" textLength="32.12" lengthAdjust="spacingAndGlyphs" fill="#1e181c" font-weight="bold">通用控制器</text>
<text x="148.39" y="151.93" font-size="6.93" textLength="32.12" lengthAdjust="spacingAndGlyphs" fill="#1e181c" font-weight="bold">通用控制器</text>
<text x="238.39" y="151.93" font-size="6.93" textLength="32.12" lengthAdjust="spacingAndGlyphs" fill="#1e181c" font-weight="bold">专用控制器</text>
<text x="325.39" y="151.93" font-size="6.93" textLength="32.12" lengthAdjust="spacingAndGlyphs" fill="#1e181c" font-weight="bold">专用控制器</text>
<text x="417.99" y="151.93" font-size="6.93" textLength="32.12" lengthAdjust="spacingAndGlyphs" fill="#1e181c" font-weight="bold">专用控制器</text>
<text x="161.9" y="91.0" font-size="6.6" font-weight="bold" textLength="23.2" lengthAdjust="spacingAndGlyphs" fill="#1e181c">模内<tspan font-size="6.8" stroke="#1e181c" stroke-width="0.2">web</tspan></text>
<text x="402.2" y="104.3" font-size="6.9" font-weight="bold" textLength="24.6" lengthAdjust="spacingAndGlyphs" fill="#1e181c"><tspan font-size="6.6" stroke="#1e181c" stroke-width="0.3">IP</tspan>路由器</text>
<text x="359.8" y="28.4" font-size="7.0" font-weight="bold" textLength="47.8" lengthAdjust="spacingAndGlyphs" fill="#1e181c">外部<tspan font-size="6.8" stroke="#1e181c" stroke-width="0.2">BACnet</tspan>设备</text>
<text x="431.00" y="66.40" font-size="7.20" textLength="32.20" lengthAdjust="spacingAndGlyphs" fill="#241418" font-weight="bold" stroke="#241418" stroke-width="0.35">INTERNET</text>
<line x1="31.6" y1="204.75" x2="40.4" y2="204.75" stroke="#7a5ab8" stroke-width="1.3"/>
<line x1="40.4" y1="226.5" x2="49.2" y2="226.5" stroke="#7a5ab8" stroke-width="1.3"/>
<line x1="31.7" y1="243.8" x2="40.4" y2="243.8" stroke="#7a5ab8" stroke-width="1.3"/>
<line x1="40.4" y1="261.1" x2="49.6" y2="261.1" stroke="#7a5ab8" stroke-width="1.3"/>
<line x1="31.6" y1="279.75" x2="40.4" y2="279.75" stroke="#7a5ab8" stroke-width="1.3"/>
<line x1="40.4" y1="298.4" x2="49.3" y2="298.4" stroke="#7a5ab8" stroke-width="1.3"/>
<line x1="31.7" y1="315.7" x2="40.4" y2="315.7" stroke="#7a5ab8" stroke-width="1.3"/>
<line x1="40.4" y1="331.3" x2="49.5" y2="331.3" stroke="#7a5ab8" stroke-width="1.3"/>
<line x1="121.2" y1="204.6" x2="130.6" y2="204.6" stroke="#7a5ab8" stroke-width="1.3"/>
<line x1="130.6" y1="237.5" x2="139.5" y2="237.5" stroke="#7a5ab8" stroke-width="1.3"/>
<line x1="121.5" y1="268.8" x2="130.6" y2="268.8" stroke="#7a5ab8" stroke-width="1.3"/>
<line x1="130.6" y1="300.2" x2="139.8" y2="300.2" stroke="#7a5ab8" stroke-width="1.3"/>
<line x1="211.2" y1="206.4" x2="220.6" y2="206.4" stroke="#7a5ab8" stroke-width="1.3"/>
<line x1="220.6" y1="237.6" x2="229" y2="237.6" stroke="#7a5ab8" stroke-width="1.3"/>
<line x1="211" y1="268" x2="220.6" y2="268" stroke="#7a5ab8" stroke-width="1.3"/>
<line x1="220.6" y1="300.6" x2="230" y2="300.6" stroke="#7a5ab8" stroke-width="1.3"/>
<line x1="298.5" y1="206.5" x2="307.6" y2="206.5" stroke="#7a5ab8" stroke-width="1.3"/>
<line x1="307.6" y1="253.3" x2="316.3" y2="253.3" stroke="#7a5ab8" stroke-width="1.3"/>
<line x1="299" y1="300.6" x2="307.6" y2="300.6" stroke="#7a5ab8" stroke-width="1.3"/>
<line x1="391.2" y1="207.8" x2="400.2" y2="207.8" stroke="#7a5ab8" stroke-width="1.3"/>
<line x1="400.2" y1="253" x2="409" y2="253" stroke="#7a5ab8" stroke-width="1.3"/>
<line x1="400.2" y1="300.3" x2="409.1" y2="300.3" stroke="#7a5ab8" stroke-width="1.3"/>
<line x1="481.2" y1="206.4" x2="490.3" y2="206.4" stroke="#7a5ab8" stroke-width="1.3"/>
<line x1="490.3" y1="253.3" x2="500" y2="253.3" stroke="#7a5ab8" stroke-width="1.3"/>
<line x1="482.2" y1="300.6" x2="490.3" y2="300.6" stroke="#7a5ab8" stroke-width="1.3"/>
<line x1="0" y1="10.45" x2="600" y2="10.45" stroke="#2e0a18" stroke-width="1.5"/>
<line x1="599.3" y1="9.7" x2="599.3" y2="387.5" stroke="#3a0a20" stroke-width="1.4"/>
<line x1="0.8" y1="10" x2="0.8" y2="387" stroke="#111" stroke-width="1.6"/>
<line x1="0" y1="386.5" x2="600" y2="386.5" stroke="#200818" stroke-width="2.0"/>
</svg></body></html>
